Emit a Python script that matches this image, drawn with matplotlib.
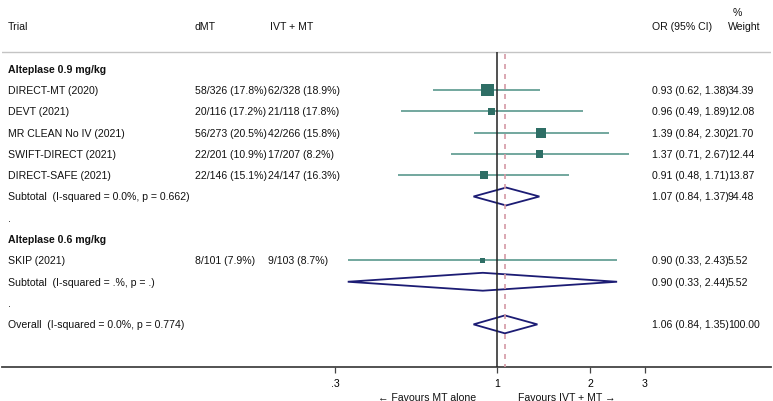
import matplotlib
matplotlib.use("Agg")
import matplotlib.pyplot as plt
import matplotlib.transforms as mtransforms
import numpy as np

plt.rcParams["font.family"] = ["Liberation Sans", "DejaVu Sans"]

# ---------------------------------------------------------------------------
# Data
# ---------------------------------------------------------------------------
trials = ["DIRECT-MT (2020)", "DEVT (2021)", "MR CLEAN No IV (2021)",
          "SWIFT-DIRECT (2021)", "DIRECT-SAFE (2021)", "SKIP (2021)"]
dmt_txt = ["58/326 (17.8%)", "20/116 (17.2%)", "56/273 (20.5%)",
           "22/201 (10.9%)", "22/146 (15.1%)", "8/101 (7.9%)"]
ivt_txt = ["62/328 (18.9%)", "21/118 (17.8%)", "42/266 (15.8%)",
           "17/207 (8.2%)", "24/147 (16.3%)", "9/103 (8.7%)"]
or_est = [0.93, 0.96, 1.39, 1.37, 0.91, 0.90]
ci_lo = [0.62, 0.49, 0.84, 0.71, 0.48, 0.33]
ci_hi = [1.38, 1.89, 2.30, 2.67, 1.71, 2.43]
weight = [34.39, 12.08, 21.70, 12.44, 13.87, 5.52]
study_rows = [3, 4, 5, 6, 7, 11]

pool_labels = ["Subtotal  (I-squared = 0.0%, p = 0.662)",
               "Subtotal  (I-squared = .%, p = .)",
               "Overall  (I-squared = 0.0%, p = 0.774)"]
pool_est = [1.07, 0.90, 1.06]
pool_lo = [0.84, 0.33, 0.84]
pool_hi = [1.37, 2.44, 1.35]
pool_w = [94.48, 5.52, 100.00]
pool_rows = [8, 12, 14]

groups = ["Alteplase 0.9 mg/kg", "Alteplase 0.6 mg/kg"]
group_rows = [2, 10]
dot_rows = [9, 13]

xticks = [0.3, 1, 2, 3]
xticklabels = [".3", "1", "2", "3"]

# ---------------------------------------------------------------------------
# Figure
# ---------------------------------------------------------------------------
W, H = 773, 402
C_BOX, C_CI, C_DIA, C_REF = "#2e6e65", "#67a096", "#1c1c74", "#d49aa6"
FS = 7.6

fig = plt.figure(figsize=(W / 100, H / 100), dpi=100)
ax = fig.add_axes([2 / W, (H - 368) / H, 769 / W, 368 / H])
ax.set_xscale("log")
ax.set_xlim(10 ** (-1.597), 10 ** 0.884)
row_px = (368 - 27) / 16
ax.set_ylim(16, -27 / row_px)

for s in ("top", "left", "right"):
    ax.spines[s].set_visible(False)
ax.spines["bottom"].set_color("#444444")
ax.spines["bottom"].set_linewidth(1.3)
ax.set_yticks([])
ax.set_xticks(xticks)
ax.set_xticklabels(xticklabels, fontsize=FS)
ax.minorticks_off()
ax.tick_params(axis="x", length=4, width=0.9, color="#444444", pad=4)

# separator, null line, overall line
sep_y = (53 - 27) / row_px
ax.axhline(sep_y, color="#c4c4c4", lw=1.0)
ax.vlines(1, sep_y, 16, color="#222222", lw=1.1, zorder=4)
ax.vlines(pool_est[2], sep_y + 0.1, 16, color=C_REF, lw=1.2,
          linestyles=(0, (3, 3)), zorder=4)

# study estimates
ax.hlines(study_rows, ci_lo, ci_hi, color=C_CI, lw=1.3, zorder=2)
ax.scatter(or_est, study_rows, s=2.4 * np.array(weight), marker="s",
           color=C_BOX, zorder=3, linewidths=0)

# pooled diamonds
for r, e, lo, hi in zip(pool_rows, pool_est, pool_lo, pool_hi):
    ax.fill([lo, e, hi, e], [r, r - 0.42, r, r + 0.42], facecolor="none",
            edgecolor=C_DIA, lw=1.3, zorder=3)

# text columns (figure-x in pixels, data-y in rows)
tr = mtransforms.blended_transform_factory(fig.transFigure, ax.transData)


def put(px, row, s, **kw):
    ax.text(px / W, row, s, transform=tr, fontsize=FS, va="center",
            ha="left", color="#111111", clip_on=False, **kw)


put(8, 0, "Trial")
put(195, 0, "dMT")
put(270, 0, "IVT + MT")
put(652, 0, "OR (95% CI)")
put(728, 0, "Weight")
put(733, -0.65, "%")

for g, r in zip(groups, group_rows):
    put(8, r, g, fontweight="bold")
for r in dot_rows:
    put(8, r, ".")

for i, r in enumerate(study_rows):
    put(8, r, trials[i])
    put(195, r, dmt_txt[i])
    put(268, r, ivt_txt[i])
    put(652, r, f"{or_est[i]:.2f} ({ci_lo[i]:.2f}, {ci_hi[i]:.2f})")
    put(728, r, f"{weight[i]:.2f}")

for i, r in enumerate(pool_rows):
    put(8, r, pool_labels[i])
    put(652, r, f"{pool_est[i]:.2f} ({pool_lo[i]:.2f}, {pool_hi[i]:.2f})")
    put(728, r, f"{pool_w[i]:.2f}")

# favours labels
ax.text(0.595, 17.4, "\u2190 Favours MT alone", fontsize=FS, ha="center",
        va="center", color="#111111", clip_on=False)
ax.text(1.68, 17.4, "Favours IVT + MT \u2192", fontsize=FS, ha="center",
        va="center", color="#111111", clip_on=False)

fig.savefig("out.png", dpi=100, facecolor="white")
plt.close(fig)
